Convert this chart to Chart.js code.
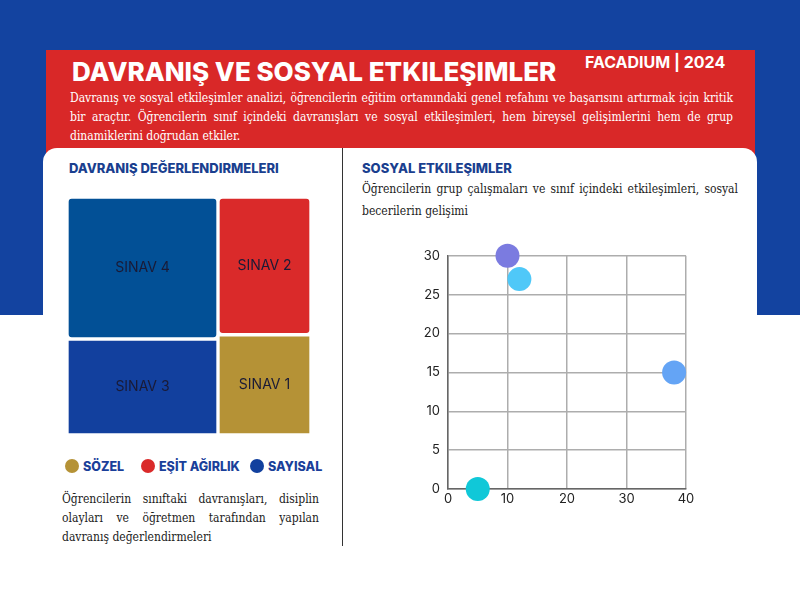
<!DOCTYPE html>
<html>
<head>
<meta charset="utf-8">
<script src="https://cdn.jsdelivr.net/npm/chart.js@4/dist/chart.umd.min.js"></script>
<style>
  body { margin: 0; width: 800px; height: 600px; position: relative; overflow: hidden; background: #fff; font-family: Inter, sans-serif; }
  .abs { position: absolute; }
  #bluebg { left: 0; top: 0; width: 800px; height: 315px; background: #1343a0; }
  #redbox { left: 46px; top: 50px; width: 709px; height: 130px; background: #d92828; }
  #panel { left: 43px; top: 148px; width: 714px; height: 460px; background: #fff; border-radius: 14px 14px 0 0; }
  #title { left: 72px; top: 57px; color: #fff; font-weight: 800; font-size: 26px; line-height: 30px; white-space: nowrap; }
  #brand { left: 585px; top: 52px; color: #fff; font-weight: 700; font-size: 16px; line-height: 20px; white-space: nowrap; }
  .serif { font-family: "DejaVu Serif Condensed", "DejaVu Serif", serif; font-stretch: condensed; text-align: justify; color: #222; }
  #intro { left: 70px; top: 89px; width: 663px; font-size: 12px; line-height: 19px; color: #fff; }
  .head { color: #1a3f8f; font-weight: 800; font-size: 13px; line-height: 16px; white-space: nowrap; }
  #divider { left: 342px; top: 148px; width: 1px; height: 398px; background: #333; }
  #txtR { left: 362px; top: 178px; width: 376px; font-size: 12px; line-height: 22px; }
  #txtL { left: 62px; top: 490px; width: 257px; font-size: 12px; line-height: 19px; }
  .leg { top: 458px; height: 16px; display: flex; align-items: center; font-weight: 800; font-size: 12.5px; color: #1a3f9a; white-space: nowrap; }
  .dot { width: 14px; height: 14px; border-radius: 50%; margin-right: 4px; }
</style>
</head>
<body>
<div class="abs" id="bluebg"></div>
<div class="abs" id="redbox"></div>
<div class="abs" id="title">DAVRANIŞ VE SOSYAL ETKILEŞIMLER</div>
<div class="abs" id="brand">FACADIUM | 2024</div>
<div class="abs serif" id="intro">Davranış ve sosyal etkileşimler analizi, öğrencilerin eğitim ortamındaki genel refahını ve başarısını artırmak için kritik bir araçtır. Öğrencilerin sınıf içindeki davranışları ve sosyal etkileşimleri, hem bireysel gelişimlerini hem de grup dinamiklerini doğrudan etkiler.</div>
<div class="abs" id="panel"></div>
<div class="abs" id="divider"></div>
<div class="abs head" style="left:69px;top:160px">DAVRANIŞ DEĞERLENDIRMELERI</div>
<div class="abs head" style="left:362px;top:160px">SOSYAL ETKILEŞIMLER</div>
<div class="abs serif" id="txtR">Öğrencilerin grup çalışmaları ve sınıf içindeki etkileşimleri, sosyal becerilerin gelişimi</div>
<div class="abs serif" id="txtL">Öğrencilerin sınıftaki davranışları, disiplin olayları ve öğretmen tarafından yapılan davranış değerlendirmeleri</div>
<div id="legend"></div>

<canvas id="colA" class="abs"></canvas>
<canvas id="colB" class="abs"></canvas>
<canvas id="scatter" class="abs" style="left:400px;top:240px;width:300px;height:280px"></canvas>

<script>
// treemap data
const exams = ["SINAV 1", "SINAV 2", "SINAV 3", "SINAV 4"];
const examValues = [16, 22, 25, 37];
const examColors = ["#b59236", "#da2a2a", "#12409e", "#025096"];

const groups = ["SÖZEL", "EŞİT AĞIRLIK", "SAYISAL"];
const groupColors = ["#b59236", "#da2a2a", "#12409e"];

// scatter data
const socialX = [10, 12, 38, 5];
const socialY = [30, 27, 15, 0];
const socialColors = ["#7b7be0", "#4fc8f8", "#64a4f5", "#10c8d8"];

// legend
const legLeft = [65, 141, 250];
groups.forEach((g, i) => {
  const d = document.createElement("div");
  d.className = "abs leg";
  d.style.left = legLeft[i] + "px";
  d.innerHTML = '<span class="dot" style="background:' + groupColors[i] + '"></span>' + g;
  document.body.appendChild(d);
});

// simple two-column treemap layout: biggest two left, the rest right
const order = exams.map((_, i) => i).sort((a, b) => examValues[b] - examValues[a]);
const columns = [order.slice(0, 2), order.slice(2)];
const total = examValues.reduce((a, b) => a + b, 0);
const box = {left: 67, top: 197, width: 244, height: 238};

const labelPlugin = {
  id: "cellLabels",
  afterDatasetsDraw(chart) {
    const ctx = chart.ctx;
    ctx.save();
    ctx.font = "14px Inter, sans-serif";
    ctx.fillStyle = "#1a1a36";
    ctx.textAlign = "center";
    ctx.textBaseline = "middle";
    chart.data.datasets.forEach((ds, i) => {
      const el = chart.getDatasetMeta(i).data[0];
      ctx.fillText(ds.label, el.x, (el.y + el.base) / 2);
    });
    ctx.restore();
  }
};

let x0 = box.left;
columns.forEach((col, c) => {
  const colSum = col.reduce((a, i) => a + examValues[i], 0);
  const w = Math.round(box.width * colSum / total);
  const cv = document.getElementById(c === 0 ? "colA" : "colB");
  cv.style.left = x0 + "px";
  cv.style.top = box.top + "px";
  cv.style.width = w + "px";
  cv.style.height = box.height + "px";
  x0 += w;
  // smaller one at the bottom of the stack
  const stack = col.slice().reverse();
  new Chart(cv, {
    type: "bar",
    data: {
      labels: [""],
      datasets: stack.map(i => ({
        label: exams[i],
        data: [examValues[i]],
        backgroundColor: examColors[i],
        borderColor: "#ffffff",
        borderWidth: 2,
        borderSkipped: false,
        borderRadius: 5,
        barPercentage: 1,
        categoryPercentage: 1
      }))
    },
    options: {
      responsive: false,
      animation: false,
      maintainAspectRatio: false,
      layout: {padding: 0},
      plugins: {legend: {display: false}, tooltip: {enabled: false}},
      scales: {
        x: {stacked: true, display: false},
        y: {stacked: true, display: false, min: 0, max: colSum}
      }
    },
    plugins: [labelPlugin]
  });
});

new Chart(document.getElementById("scatter"), {
  type: "scatter",
  data: {
    datasets: [{
      data: socialX.map((x, i) => ({x: x, y: socialY[i]})),
      backgroundColor: socialColors,
      borderWidth: 0,
      pointRadius: 12,
      pointHoverRadius: 12,
      clip: false
    }]
  },
  options: {
    responsive: false,
    animation: false,
    layout: {padding: {top: 14, right: 14, bottom: 1, left: 0}},
    plugins: {legend: {display: false}, tooltip: {enabled: false}},
    elements: {point: {borderWidth: 0}},
    scales: {
      x: {
        type: "linear", min: 0, max: 40,
        ticks: {stepSize: 10, color: "#222", font: {family: "Inter", size: 13}, padding: 2},
        grid: {color: "#adadad", lineWidth: 1.5, drawTicks: false},
        border: {color: "#666", width: 1.5},
        afterFit: s => { s.height = 30; }
      },
      y: {
        min: 0, max: 30,
        ticks: {stepSize: 5, color: "#222", font: {family: "Inter", size: 13}, padding: 8},
        grid: {color: "#adadad", lineWidth: 1.5, drawTicks: false},
        border: {color: "#666", width: 1.5},
        afterFit: s => { s.width = 48; }
      }
    }
  }
});
</script>
</body>
</html>
